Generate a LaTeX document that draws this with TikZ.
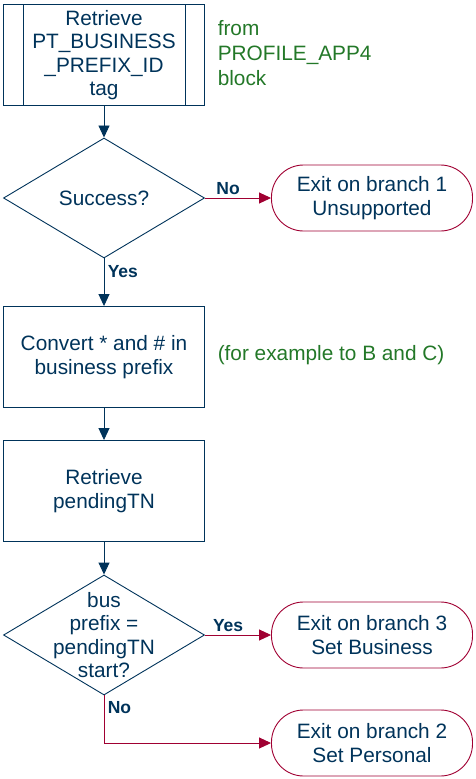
\documentclass[tikz,border=0pt]{standalone}
\usepackage{fontspec}
\setmainfont{Liberation Sans}
\usetikzlibrary{arrows.meta,shapes.geometric}
\definecolor{navy}{RGB}{0,51,90}
\definecolor{crimson}{RGB}{160,0,50}
\definecolor{note}{RGB}{35,120,40}

\begin{document}
\begin{tikzpicture}[x=1pt,y=-1pt,>={Triangle[length=12pt,width=11pt]},line width=0.9pt,
  font=\fontsize{20.8}{23.5}\selectfont,
  proc/.style={draw=navy,text=navy,minimum width=201pt,minimum height=101pt,align=center,inner sep=0pt},
  decision/.style={draw=navy,diamond,minimum width=201pt,minimum height=120pt,inner sep=0pt},
  terminal/.style={draw=crimson,text=navy,rounded corners=32pt,minimum width=201pt,minimum height=66pt,align=center,inner sep=0pt},
  flow/.style={->,draw=navy},
  exitflow/.style={->,draw=crimson},
  answer/.style={text=navy,font=\fontsize{17.5}{20}\selectfont\bfseries},
  remark/.style={text=note,align=left,anchor=west,font=\fontsize{20.8}{25}\selectfont}]
\useasboundingbox (0,0) rectangle (475,779);
% main column
\node[proc] (tag) at (104,55) {Retrieve\\PT\_BUSINESS\\\_PREFIX\_ID\\tag};
\draw[navy] ([xshift=20pt]tag.north west) -- ([xshift=20pt]tag.south west);
\draw[navy] ([xshift=-20pt]tag.north east) -- ([xshift=-20pt]tag.south east);
\node[remark] (src) at (214,53) {from\\PROFILE\_APP4\\block};
\node[decision] (ok) at (104,198) {};
\node[text=navy] (oktxt) at (ok) {Success?};
\node[proc] (conv) at (104,357) {Convert * and \# in\\business prefix};
\node[remark] (eg) at (214,355) {(for example to B and C)};
\node[proc] (pend) at (104,491) {Retrieve\\pendingTN};
\node[decision] (cmp) at (104,635) {};
\node[text=navy,align=center] (cmptxt) at (cmp) {bus\\prefix =\\pendingTN\\start?};
% exits
\node[terminal] (ex1) at (372,198) {Exit on branch 1\\Unsupported};
\node[terminal] (ex3) at (372,635) {Exit on branch 3\\Set Business};
\node[terminal] (ex2) at (372,743) {Exit on branch 2\\Set Personal};
% connectors
\draw[flow] (tag) -- (ok);
\draw[flow] (ok) -- node[answer,right,pos=0.27]{Yes} (conv);
\draw[exitflow] (ok) -- node[answer,above,pos=0.35]{No} (ex1);
\draw[flow] (conv) -- (pend);
\draw[flow] (pend) -- (cmp);
\draw[exitflow] (cmp) -- node[answer,above,pos=0.35]{Yes} (ex3);
\draw[exitflow] (cmp.south) |- node[answer,right,pos=0.125]{No} (ex2);
\end{tikzpicture}
\end{document}
